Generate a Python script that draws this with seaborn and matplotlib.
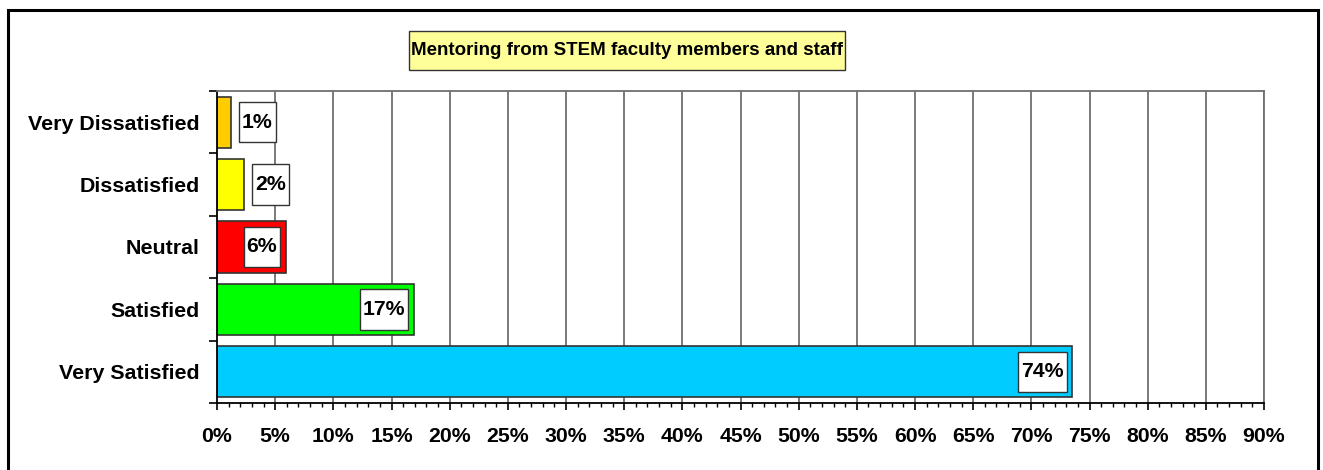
import matplotlib
matplotlib.use("Agg")
import matplotlib.pyplot as plt
import matplotlib.patches as mpatches
from matplotlib.path import Path
from matplotlib.ticker import MultipleLocator, FuncFormatter
import seaborn as sns
import pandas as pd

categories = ["Very Dissatisfied", "Dissatisfied", "Neutral", "Satisfied", "Very Satisfied"]
values = [1.2, 2.3, 5.9, 16.9, 73.5]
value_labels = ["1%", "2%", "6%", "17%", "74%"]
colors = ["#FFCC00", "#FFFF00", "#FF0000", "#00FF00", "#00CCFF"]
title = "Mentoring from STEM faculty members and staff"

sns.set_theme(style="white")
plt.rcParams['font.family'] = ['Liberation Sans', 'DejaVu Sans']
plt.rcParams['font.weight'] = 'bold'


def make_box(padx, pady):
    def box(x0, y0, width, height, mutation_size):
        px = padx * mutation_size
        py = pady * mutation_size
        x0, y0 = x0 - px, y0 - py
        x1, y1 = x0 + width + 2 * px, y0 + height + 2 * py
        return Path([(x0, y0), (x1, y0), (x1, y1), (x0, y1), (x0, y0)], closed=True)
    return box


df = pd.DataFrame({"category": categories, "value": values})

fig = plt.figure(figsize=(13.23, 4.70), dpi=100)
ax = fig.add_axes([217/1323, 1-403/470, (1264-217)/1323, (403-91)/470])

sns.barplot(data=df, y="category", x="value", hue="category", order=categories,
            hue_order=categories, palette=colors, orient="h", width=0.82,
            edgecolor="#333333", linewidth=1.2, legend=False, ax=ax, saturation=1)

ax.set_xlim(0, 90)
ax.set_ylim(4.5, -0.5)
ax.xaxis.set_major_locator(MultipleLocator(5))
ax.xaxis.set_minor_locator(MultipleLocator(1))
ax.xaxis.set_major_formatter(FuncFormatter(lambda v, p: f"{int(round(v))}%"))
ax.set_yticks([i for i in range(len(categories))])
ax.set_yticklabels(categories)
ax.set_xlabel("")
ax.set_ylabel("")

# grid lines
for x in range(5, 91, 5):
    ax.axvline(x, color="#707070", lw=1.3, zorder=0)
ax.set_axisbelow(True)

for s in ["top", "right"]:
    ax.spines[s].set_color("#707070")
    ax.spines[s].set_linewidth(1.3)
for s in ["left", "bottom"]:
    ax.spines[s].set_color("#000000")
    ax.spines[s].set_linewidth(1.3)

ax.tick_params(axis="x", which="major", direction="out", length=5, width=1.2,
               color="black", bottom=True, labelsize=15.3, pad=12)
ax.tick_params(axis="x", which="minor", direction="out", length=3, width=1.0,
               color="black", bottom=True)
ax.tick_params(axis="y", which="major", length=0, labelsize=15.4, pad=12.5)
for lbl in ax.get_xticklabels() + ax.get_yticklabels():
    lbl.set_fontweight("bold")
    lbl.set_color("black")

# y ticks at category boundaries
ax.set_yticks([i + 0.5 for i in range(-1, len(categories))], minor=True)
ax.tick_params(axis="y", which="minor", direction="out", length=6, width=1.2,
               color="black", left=True)

# value labels
for i, (v, lab) in enumerate(zip(values, value_labels)):
    if v >= 5:
        off, ha = -6, "right"
    else:
        off, ha = 8, "left"
    ax.annotate(lab, xy=(v, i), xytext=(off, 0), textcoords="offset points",
                ha=ha, va="center", fontsize=15.3, fontweight="bold",
                color="black",
                bbox=dict(boxstyle=make_box(0.14, 0.5), fc="white", ec="#333333", lw=1.0))

# title
fig.text(627/1323, 1-50.5/470, title, ha="center", va="center", fontsize=13.5,
         fontweight="bold", color="black",
         bbox=dict(boxstyle=make_box(0.13, 0.6), fc="#FFFF99", ec="#333333", lw=1.0))

# outer border
border = mpatches.Rectangle((8/1323, -0.05), (1318-8)/1323, 1.05 - 9.5/470,
                            transform=fig.transFigure, fill=False, ec="black",
                            lw=2.2, clip_on=False)
fig.patches.append(border)

fig.savefig("out.png", dpi=100, facecolor="white")
